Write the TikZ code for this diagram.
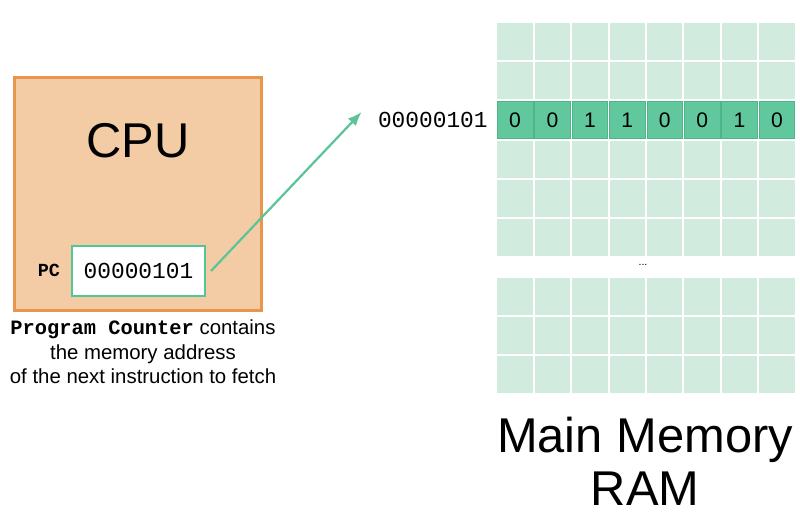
\documentclass[tikz,border=0pt]{standalone}
\usepackage{fontspec}
\setmainfont{Liberation Sans}
\setmonofont{Liberation Mono}
\usetikzlibrary{arrows.meta}
\definecolor{cpufill}{RGB}{243,204,166}
\definecolor{cpuedge}{RGB}{232,150,78}
\definecolor{pcedge}{RGB}{82,198,150}
\definecolor{memlight}{RGB}{210,235,223}
\definecolor{membit}{RGB}{97,200,157}
\definecolor{memedge}{RGB}{76,182,138}
\definecolor{arrowgreen}{RGB}{92,196,152}

\begin{document}
\begin{tikzpicture}[x=0.02cm, y=-0.02cm]
\tikzset{boite/.style={draw=cpuedge, fill=cpufill, line width=0.06cm, minimum width=4.96cm, minimum height=4.68cm}}
\tikzset{registre/.style={draw=pcedge, fill=white, line width=0.04cm, minimum width=2.66cm, minimum height=1cm, inner sep=0pt, font=\ttfamily\fontsize{13}{15}\selectfont}}
\tikzset{case/.style={fill=memlight, minimum width=0.708cm, minimum height=0.744cm, inner sep=0pt}}
\tikzset{casebit/.style={fill=membit, draw=memedge, line width=0.4pt, minimum width=0.71cm, minimum height=0.746cm, inner sep=0pt, font=\fontsize{12}{14}\selectfont}}
\tikzset{grand/.style={anchor=base, inner sep=0pt, font=\fontsize{27.8}{30}\selectfont}}
\tikzset{lien/.style={draw=arrowgreen, line width=0.045cm, -{Latex[length=0.28cm, width=0.22cm]}}}
\useasboundingbox (0,0) rectangle (800,513);
\node[boite] (cpu) at (138,194) {};
\node[grand] (cputxt) at (138,157) {CPU};
\node[registre] (pc) at (138.5,271) {00000101};
\node[font=\ttfamily\bfseries\fontsize{10.5}{12}\selectfont] (pclbl) at (49,270) {PC};
\node[align=center, font=\fontsize{11.6}{13.9}\selectfont] (legende) at (143,352) {\texttt{\textbf{Program Counter}} contains\\the memory address\\of the next instruction to fetch};
\foreach \r in {0,1,3,4,5}
  \foreach \c in {0,...,7}
    \node[case] (m\r\c) at ({515.1+37.4*\c},{41.6+39.2*\r}) {};
\foreach \b [count=\c from 0] in {0,0,1,1,0,0,1,0}
  \node[casebit] (bit\c) at ({515.1+37.4*\c},120) {\b};
\node[font=\fontsize{6}{7}\selectfont] (points) at (643,265) {...};
\foreach \r in {0,1,2}
  \foreach \c in {0,...,7}
    \node[case] (n\r\c) at ({515.1+37.4*\c},{296.5+39*\r}) {};
\node[anchor=east, inner sep=0pt, font=\ttfamily\fontsize{13}{15}\selectfont] (adresse) at (488,120) {00000101};
\node[grand] (memoire) at (645,452) {Main Memory};
\node[grand] (ram) at (645,505) {RAM};
\draw[lien] ([xshift=0.1cm]pc.east) -- ([xshift=-0.32cm, yshift=0.16cm]adresse.west);
\end{tikzpicture}
\end{document}
